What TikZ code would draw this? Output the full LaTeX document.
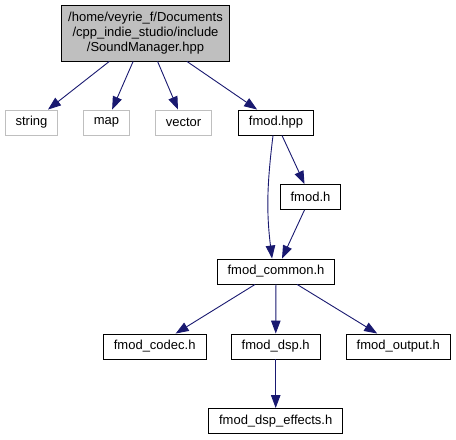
\documentclass[tikz,border=0pt]{standalone}
\usepackage{fontspec}
\setmainfont{Liberation Sans}
\usetikzlibrary{arrows.meta}

\definecolor{edgeblue}{RGB}{25,25,112}
\definecolor{boxgray}{RGB}{191,191,191}

\tikzset{
	file/.style={draw=black, line width=0.9bp, inner xsep=10.5bp, inner ysep=0bp, minimum height=25bp, font=\fontsize{13bp}{15bp}\selectfont},
	sysfile/.style={file, draw=boxgray},
	rootfile/.style={file, fill=boxgray, align=center, minimum height=56bp, inner xsep=7bp},
	edge/.style={draw=edgeblue, line width=0.9bp, -{Triangle[length=13bp,width=9.5bp]}}
}

\begin{document}
\begin{tikzpicture}[x=1bp, y=-1bp]
		\useasboundingbox (0, 0) rectangle (456, 440);
		\node [rootfile] (root) at (145.5, 33) {/home/veyrie\_f/Documents\\/cpp\_indie\_studio/include\\/SoundManager.hpp};
		\node [sysfile] (string) at (31.5, 122.5) {string};
		\node [sysfile] (map) at (106.5, 122.5) {map};
		\node [sysfile] (vector) at (183.5, 122.5) {vector};
		\node [file] (fmodhpp) at (276, 122.5) {fmod.hpp};
		\node [file] (fmodh) at (310.5, 197) {fmod.h};
		\node [file] (common) at (276, 271.5) {fmod\_common.h};
		\node [file] (codec) at (154.7, 346.5) {fmod\_codec.h};
		\node [file] (dsp) at (275.7, 346.5) {fmod\_dsp.h};
		\node [file] (output) at (398.3, 346.5) {fmod\_output.h};
		\node [file] (effects) at (275.7, 421) {fmod\_dsp\_effects.h};
		\draw [edge] (root) -- (string);
		\draw [edge] (root) -- (map);
		\draw [edge] (root) -- (vector);
		\draw [edge] (root) -- (fmodhpp);
		\draw [edge] (fmodhpp.-103) to [out=-97, in=97] (common.107);
		\draw [edge] (fmodhpp) -- (fmodh);
		\draw [edge] (fmodh) -- (common);
		\draw [edge] (common) -- (codec);
		\draw [edge] (common) -- (dsp);
		\draw [edge] (common) -- (output);
		\draw [edge] (dsp) -- (effects);
	\end{tikzpicture}
\end{document}
